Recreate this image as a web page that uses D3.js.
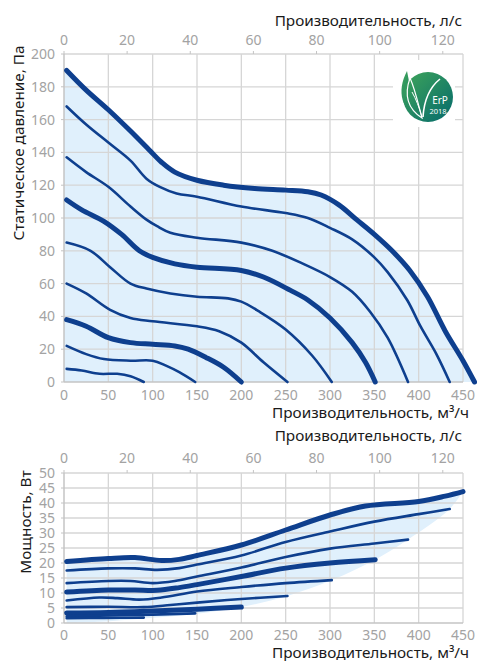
<!DOCTYPE html>
<html><head><meta charset="utf-8">
<script src="https://cdn.jsdelivr.net/npm/d3@7"></script>
<style>body{margin:0;background:#fff}svg{display:block;font-family:"Noto Sans",sans-serif}</style>
</head><body><svg id="c" width="477" height="661"></svg>
<script>
// ---------- data ----------
const flowTicks = [0,50,100,150,200,250,300,350,400,450];      // m³/h
const lsTicks = [0,20,40,60,80,100,120];                        // l/s
const pressureTicks = [0,20,40,60,80,100,120,140,160,180,200];  // Pa
const powerTicks = [0,5,10,15,20,25,30,35,40,45,50];            // W

// pressure curves [m³/h, Pa]
const p1 = [[3,190],[25,178],[50,166],[75,153],[97,141],[110,134],[125,128],[150,123],[180,120],[215,118],[250,117],[275,116],[290,114],[310,108],[330,99],[350,90],[370,80],[390,68],[410,52],[430,31],[450,13],[463,0]];
const p2 = [[3,168],[25,157],[50,146],[75,135],[93,124],[108,119],[127,115],[150,113],[200,107],[250,103],[275,100],[300,94],[325,87],[350,76],[365,67],[387,50],[402,34],[420,17],[435,0]];
const p3 = [[3,137],[25,128],[50,119],[75,107],[93,99],[105,95],[120,91],[150,88],[200,85],[235,80],[270,72],[300,64],[325,55],[345,43],[365,27],[388,0]];
const p4 = [[3,111],[20,105],[45,98],[65,90],[85,80],[100,76],[125,72],[150,70],[200,68],[225,64],[255,56],[275,50],[300,39],[325,24],[340,12],[351,0]];
const p5 = [[3,85],[30,80],[52,70],[75,60],[93,57],[120,54],[150,52],[185,51],[200,49],[220,43],[250,32],[280,16],[302,0]];
const p6 = [[3,60],[25,54],[52,44],[75,39],[100,37],[150,34],[175,31],[200,24],[225,12],[252,0]];
const p7 = [[3,38],[25,34],[50,27],[75,24],[100,23],[125,22],[140,20],[160,15],[180,9],[200,0]];
const p8 = [[3,22],[25,17],[45,14],[75,13],[100,13],[115,10],[130,6],[148,0]];
const p9 = [[3,8],[20,7],[40,5],[60,5],[75,3.5],[90,0]];
const pressureCurves = [p1,p2,p3,p4,p5,p6,p7,p8,p9];

// power curves [m³/h, W]
const w1 = [[3,20.5],[50,21.5],[80,21.8],[110,20.8],[130,21.2],[150,22.5],[200,26],[250,31],[300,36],[340,39],[400,40.5],[430,42.3],[450,43.8]];
const w2 = [[3,17.5],[50,18.2],[80,18.2],[105,17.7],[130,18.3],[150,19.5],[200,22.5],[250,27],[300,30.5],[350,33.8],[400,36.3],[435,38]];
const w3 = [[3,13.3],[50,14],[75,14],[100,13.3],[125,14],[150,15.5],[200,18.5],[250,22],[300,24.8],[350,26.5],[388,27.8]];
const w4 = [[3,10.3],[50,11],[80,11],[105,10.9],[130,11.8],[150,12.8],[200,15.5],[250,18.3],[300,20],[351,21.1]];
const w5 = [[3,7.5],[40,8.5],[60,8.3],[85,7.8],[110,8.5],[150,10.5],[200,12],[250,13.3],[302,14.3]];
const w6 = [[3,5.3],[50,5.4],[90,5.3],[120,6],[150,6.8],[200,8],[252,9]];
const w7 = [[3,3.3],[50,3.5],[100,4],[150,4.6],[200,5.3]];
const w8 = [[3,2.2],[50,2.5],[100,2.8],[148,3.2]];
const w9 = [[3,1.6],[45,1.7],[90,1.8]];
const powerCurves = [w1,w2,w3,w4,w5,w6,w7,w8,w9];
const powerLowerEdge = [[450,43.8],[435,38],[388,27.8],[351,21.1],[302,14.3],[252,9],[200,5.3],[148,3.0],[90,1.5],[40,0.4],[3,0]];

const thickIdx = [0,3,6];

// ---------- style ----------
const BLUE = "#0e3f8e", FILL = "#e0f0fc", GRID = "#d6d6d6", AXIS = "#c4c4c4", TICKTXT = "#a3a3a3";
const svg = d3.select("#c");

const x = d3.scaleLinear().domain([0,450]).range([64,463]);
const xLs = d3.scaleLinear().domain([0,450/3.56]).range([64,463]);
const yP = d3.scaleLinear().domain([0,200]).range([382,54]);
const yW = d3.scaleLinear().domain([0,50]).range([623,473]);

function grid(y, yTicks) {
  const g = svg.append("g");
  const [yb, yt] = y.range();
  g.append("g").selectAll("line").data(flowTicks.slice(1)).join("line")
    .attr("x1", d=>x(d)).attr("x2", d=>x(d)).attr("y1", yt).attr("y2", yb)
    .attr("stroke", GRID).attr("stroke-width", 1.3);
  g.append("g").selectAll("line").data(yTicks.slice(1)).join("line")
    .attr("x1", x(0)).attr("x2", x(450)).attr("y1", d=>y(d)).attr("y2", d=>y(d))
    .attr("stroke", GRID).attr("stroke-width", 1.3);
}

function axes(y, yTicks, topTitleY, topTickY, botTickY, botTitleY, yTitle, yTitleX, yTitleY) {
  const g = svg.append("g");
  const [yb, yt] = y.range();
  g.append("line").attr("x1", x(0)).attr("x2", x(0)).attr("y1", yt).attr("y2", yb).attr("stroke", AXIS).attr("stroke-width", 1.5);
  g.append("line").attr("x1", x(0)).attr("x2", x(450)).attr("y1", yb).attr("y2", yb).attr("stroke", AXIS).attr("stroke-width", 1.3);
  g.selectAll(".lt").data(yTicks).join("line").attr("x1", x(0)-3).attr("x2", x(0)).attr("y1", d=>y(d)).attr("y2", d=>y(d)).attr("stroke", AXIS);
  g.selectAll(".tt").data(lsTicks).join("line").attr("x1", d=>xLs(d)).attr("x2", d=>xLs(d)).attr("y1", yt-3).attr("y2", yt).attr("stroke", AXIS);
  g.selectAll(".yl").data(yTicks).join("text").attr("x", 55).attr("y", d=>y(d)).attr("dy","0.36em")
    .attr("text-anchor","end").attr("fill", TICKTXT).attr("font-size", 14).text(d=>d);
  g.selectAll(".tl").data(lsTicks).join("text").attr("x", d=>xLs(d)).attr("y", topTickY)
    .attr("text-anchor","middle").attr("fill", TICKTXT).attr("font-size", 14).text(d=>d);
  g.selectAll(".bl").data(flowTicks).join("text").attr("x", d=>x(d)).attr("y", botTickY)
    .attr("text-anchor","middle").attr("fill", TICKTXT).attr("font-size", 14).text(d=>d);
  g.append("text").attr("x", 462).attr("y", topTitleY).attr("text-anchor","end").attr("font-size", 15.3).attr("fill","#1a1a1a").text("Производительность, л/с");
  g.append("text").attr("x", 469).attr("y", botTitleY).attr("text-anchor","end").attr("font-size", 15.3).attr("fill","#1a1a1a").text("Производительность, м³/ч");
  g.append("text").attr("transform", `translate(${yTitleX},${yTitleY}) rotate(-90)`).attr("text-anchor","middle")
    .attr("font-size", 15.3).attr("fill","#1a1a1a").text(yTitle);
}

const lineGen = (y) => d3.line().x(d=>x(d[0])).y(d=>y(d[1])).curve(d3.curveCatmullRom.alpha(0.5));

// ---------- top chart ----------
const topFill = [[0, p1[0][1]], ...p1];
svg.append("path").attr("d", d3.area().x(d=>x(d[0])).y0(yP(0)).y1(d=>yP(d[1])).curve(d3.curveCatmullRom.alpha(0.5))(topFill)).attr("fill", FILL);
grid(yP, pressureTicks);
svg.append("rect").attr("x",393).attr("y",60).attr("width",62).attr("height",67).attr("fill","#fff");
axes(yP, pressureTicks, 26, 45, 400, 418, "Статическое давление, Па", 24, 143);
svg.append("g").selectAll("path").data(pressureCurves).join("path")
  .attr("d", d=>lineGen(yP)(d)).attr("fill","none").attr("stroke", BLUE)
  .attr("stroke-width", (d,i)=>thickIdx.includes(i)?5:2.6).attr("stroke-linecap","round");

// ---------- bottom chart ----------
const lg = lineGen(yW);
svg.append("path").attr("d", lg(w1) + lg(powerLowerEdge).replace(/^M/,"L") + "Z").attr("fill", FILL);
grid(yW, powerTicks);
axes(yW, powerTicks, 441, 463, 640, 658, "Мощность, Вт", 31, 522);
svg.append("g").selectAll("path").data(powerCurves).join("path")
  .attr("d", d=>lg(d)).attr("fill","none").attr("stroke", BLUE)
  .attr("stroke-width", (d,i)=>thickIdx.includes(i)?5:2.6).attr("stroke-linecap","round");

// ---------- ErP logo ----------
const defs = svg.append("defs");
const gr = defs.append("linearGradient").attr("id","lg").attr("x1","0").attr("y1","0").attr("x2","1").attr("y2","1");
gr.append("stop").attr("offset","0").attr("stop-color","#3fa55a");
gr.append("stop").attr("offset","1").attr("stop-color","#056a6c");
const logo = svg.append("g").attr("transform","translate(428,97)");
logo.append("path").attr("d","M-21,-26 C-32,-5 -26,14 -7,22 C-14,8 -18,-10 -21,-26 Z").attr("fill","url(#lg)");
logo.append("circle").attr("r",25).attr("fill","url(#lg)");
logo.append("path").attr("d","M-18,-19 C-24,-2 -20,12 -6,21 C-10,6 -13,-8 -18,-19 Z").attr("fill","none").attr("stroke","#fff").attr("stroke-width",1.2);
logo.append("path").attr("d","M-5,20 C-4,4 2,-10 12,-18").attr("fill","none").attr("stroke","#fff").attr("stroke-width",1.6);
logo.append("path").attr("d","M-16,-5 C-12,2 -9,10 -6,20").attr("fill","none").attr("stroke","#fff").attr("stroke-width",1);
logo.append("text").attr("x",12).attr("y",7).attr("text-anchor","middle").attr("fill","#fff").attr("font-size",10).text("ErP");
logo.append("text").attr("x",10).attr("y",17).attr("text-anchor","middle").attr("fill","#fff").attr("font-size",7.5).text("2018");
</script></body></html>
